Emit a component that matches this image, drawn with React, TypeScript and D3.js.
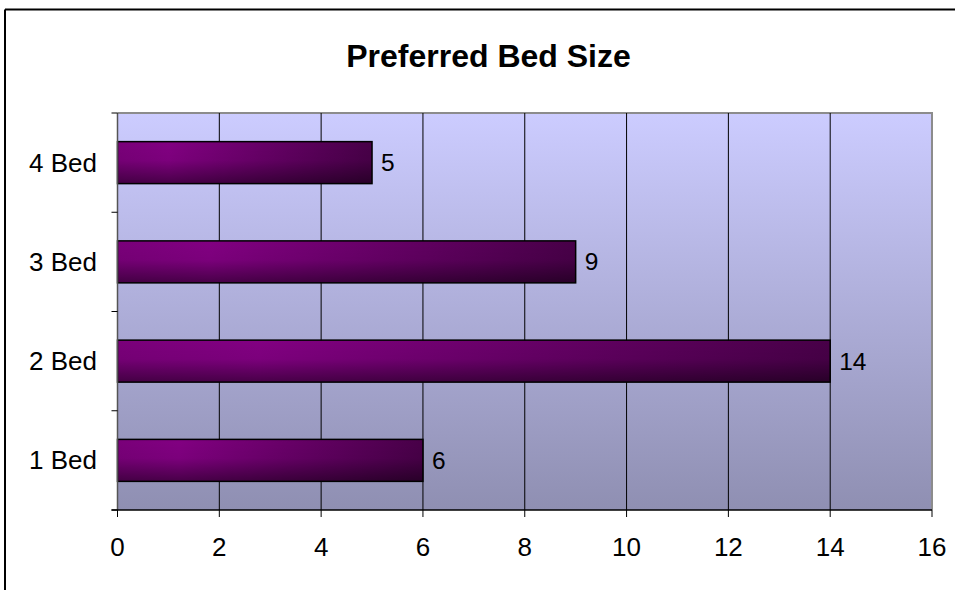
import React from "react";
import * as d3 from "d3";

const categories = ["1 Bed", "2 Bed", "3 Bed", "4 Bed"];
const values = [6, 14, 9, 5];
const xTicks = [0, 2, 4, 6, 8, 10, 12, 14, 16];
const title = "Preferred Bed Size";

const W = 955;
const H = 590;
const plot = { left: 117.5, right: 932, top: 113, bottom: 510 };
const FONT = "Arial, 'Liberation Sans', sans-serif";

export default function App() {
  const x = d3.scaleLinear().domain([0, 16]).range([plot.left, plot.right]);
  // categories listed bottom-to-top
  const y = d3
    .scaleBand<string>()
    .domain([...categories].reverse())
    .range([plot.top, plot.bottom])
    .paddingInner(0)
    .paddingOuter(0);
  const barFrac = 0.423;
  const bw = y.bandwidth();
  const barH = bw * barFrac;
  const boundaries = d3.range(categories.length + 1).map((i) => plot.top + i * bw);

  return (
    <div style={{ position: "fixed", left: 0, top: 0, width: W, height: H, overflow: "hidden", background: "#fff" }}>
      <svg width={W} height={H} style={{ display: "block" }}>
        <defs>
          <linearGradient id="bg" x1="0" y1="0" x2="0" y2="1">
            <stop offset="0" stopColor="#ccccff" />
            <stop offset="1" stopColor="#8f8fb2" />
          </linearGradient>
          <linearGradient id="barH" x1="0" y1="0" x2="1" y2="0">
            <stop offset="0" stopColor="#7a007a" />
            <stop offset="0.2" stopColor="#820082" />
            <stop offset="1" stopColor="#480048" />
          </linearGradient>
          <linearGradient id="barV" x1="0" y1="0" x2="0" y2="1">
            <stop offset="0" stopColor="#000" stopOpacity="0" />
            <stop offset="0.45" stopColor="#000" stopOpacity="0.05" />
            <stop offset="1" stopColor="#000" stopOpacity="0.45" />
          </linearGradient>
        </defs>

        {/* outer frame: only the top and left edges fall inside the canvas */}
        <line x1={5} x2={5} y1={9.5} y2={H} stroke="#000" strokeWidth={2} />
        <line x1={5} x2={W} y1={9.5} y2={9.5} stroke="#000" strokeWidth={2} />

        <text
          x={488.5}
          y={67}
          textAnchor="middle"
          fontFamily={FONT}
          fontWeight="bold"
          fontSize={32}
          fill="#000"
        >
          {title}
        </text>

        {/* plot background */}
        <rect
          x={plot.left}
          y={plot.top}
          width={plot.right - plot.left}
          height={plot.bottom - plot.top}
          fill="url(#bg)"
        />
        {/* plot border (top/right) */}
        <path
          d={`M${plot.left},${plot.top}H${plot.right}V${plot.bottom}`}
          fill="none"
          stroke="#8c8c8c"
          strokeWidth={2}
        />

        {/* vertical gridlines */}
        {xTicks.slice(1, -1).map((t) => (
          <line key={t} x1={x(t)} x2={x(t)} y1={plot.top} y2={plot.bottom} stroke="#000" strokeWidth={1} />
        ))}

        {/* bars */}
        {categories.map((c, i) => {
          const y0 = (y(c) as number) + (bw - barH) / 2;
          const w = x(values[i]) - x(0);
          return (
            <g key={c}>
              <rect x={x(0)} y={y0} width={w} height={barH} fill="url(#barH)" />
              <rect x={x(0)} y={y0} width={w} height={barH} fill="url(#barV)" stroke="#000" strokeWidth={1.5} />
              <text
                x={x(values[i]) + 9}
                y={y0 + barH / 2 + 8.5}
                fontFamily={FONT}
                fontSize={24.5}
                fill="#000"
              >
                {values[i]}
              </text>
            </g>
          );
        })}

        {/* y axis */}
        <line x1={plot.left} x2={plot.left} y1={plot.top} y2={plot.bottom} stroke="#555" strokeWidth={1.5} />
        {boundaries.map((b, i) => (
          <line key={i} x1={plot.left - 6} x2={plot.left} y1={b} y2={b} stroke="#000" strokeWidth={1} />
        ))}
        {categories.map((c) => (
          <text
            key={c}
            x={97}
            y={(y(c) as number) + bw / 2 + 9}
            textAnchor="end"
            fontFamily={FONT}
            fontSize={26}
            fill="#000"
          >
            {c}
          </text>
        ))}

        {/* x axis */}
        <line x1={plot.left - 6} x2={plot.right} y1={plot.bottom} y2={plot.bottom} stroke="#000" strokeWidth={1.5} />
        {xTicks.map((t) => (
          <g key={t}>
            <line x1={x(t)} x2={x(t)} y1={plot.bottom} y2={plot.bottom + 7} stroke="#000" strokeWidth={1} />
            <text
              x={x(t)}
              y={556}
              textAnchor="middle"
              fontFamily={FONT}
              fontSize={26}
              fill="#000"
            >
              {t}
            </text>
          </g>
        ))}
      </svg>
    </div>
  );
}
